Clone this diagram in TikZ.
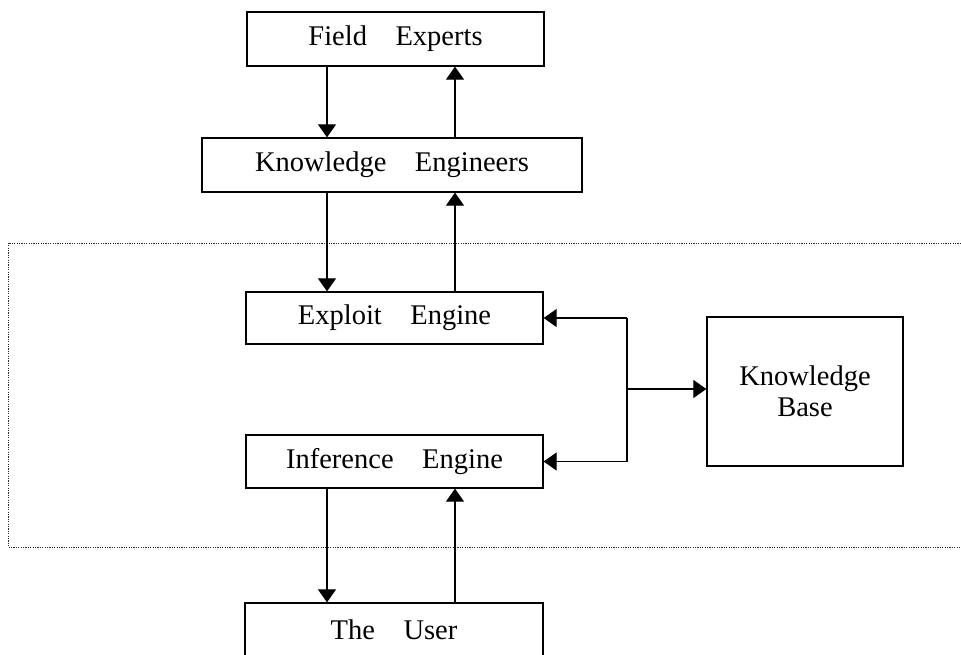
\documentclass[tikz,border=0pt]{standalone}
\usepackage{fontspec}
\setmainfont{Liberation Serif}
\usetikzlibrary{arrows.meta}
\begin{document}
\begin{tikzpicture}[x=1pt,y=-1pt,
  box/.style={draw=black,line width=1.3pt,rectangle,inner sep=0pt,
    font=\fontsize{28.5}{31}\selectfont,align=center},
  arr/.style={line width=1.2pt,-{Triangle[width=18pt,length=13pt]}},
  lin/.style={line width=1.2pt},
  region/.style={line width=0.9pt,dash pattern=on 1.2pt off 1.2pt,black!85}]
\useasboundingbox (0,0) rectangle (961,654);
% dotted region (open to the right)
\draw[region] (961,243) -- (8,243) -- (8,547) -- (961,547);
% nodes
\node[box,minimum width=297pt,minimum height=54pt] (fe) at (395.5,39) {Field\quad Experts};
\node[box,minimum width=380pt,minimum height=54pt] (ke) at (392,165) {Knowledge\quad Engineers};
\node[box,minimum width=297pt,minimum height=52pt] (ee) at (394.5,318) {Exploit\quad Engine};
\node[box,minimum width=297pt,minimum height=53pt] (ie) at (394.5,461.5) {Inference\quad Engine};
\node[box,minimum width=196pt,minimum height=149pt] (kb) at (805,391.5) {Knowledge\\Base};
\node[box,minimum width=298pt,minimum height=54pt] (us) at (394,630) {The\quad User};
% helper coordinates
\coordinate (dl) at (327,0);
\coordinate (ul) at (455,0);
\coordinate (j) at (627,389);
% vertical connectors
\draw[arr] (fe.south -| dl) -- (ke.north -| dl);
\draw[arr] (ke.north -| ul) -- (fe.south -| ul);
\draw[arr] (ke.south -| dl) -- (ee.north -| dl);
\draw[arr] (ee.north -| ul) -- (ke.south -| ul);
\draw[arr] (ie.south -| dl) -- (us.north -| dl);
\draw[arr] (us.north -| ul) -- (ie.south -| ul);
% knowledge base connectors
\draw[lin] (j |- ee.east) -- (j |- ie.east);
\draw[arr] (j |- ee.east) -- (ee.east);
\draw[arr] (j |- ie.east) -- (ie.east);
\draw[arr] (j) -- (kb.west |- j);
\end{tikzpicture}
\end{document}
